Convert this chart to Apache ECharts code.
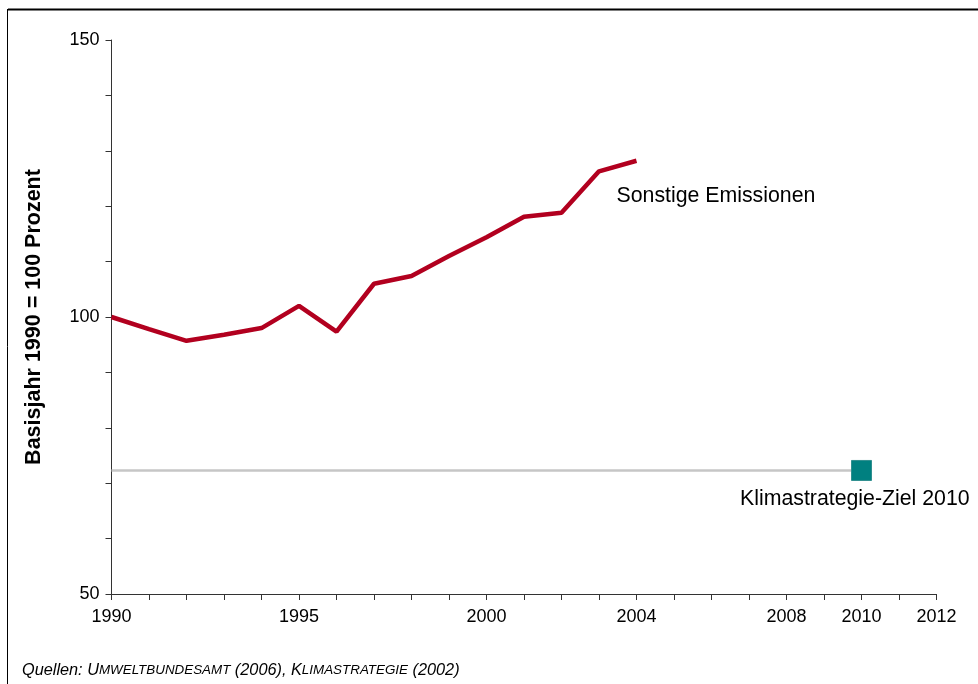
<!DOCTYPE html>
<html>
<head>
<meta charset="utf-8">
<script src="https://cdn.jsdelivr.net/npm/echarts@6/dist/echarts.min.js"></script>
<style>html,body{margin:0;padding:0;background:#fff;}#c{width:978px;height:684px;}</style>
</head>
<body>
<div id="c"></div>
<script>
const years = [1990,1991,1992,1993,1994,1995,1996,1997,1998,1999,2000,2001,2002,2003,2004];
const emissions = [100.0,97.8,95.7,96.8,98.0,102.0,97.35,106.0,107.4,111.0,114.4,118.1,118.8,126.3,128.2];
const targetYears = [1990, 2010];
const targetValue = 72.3;
const xLabelYears = [1990,1995,2000,2004,2008,2010,2012];
const yLabelValues = [50,100,150];
const seriesName = 'Sonstige Emissionen';
const targetName = 'Klimastrategie-Ziel 2010';
const yTitle = 'Basisjahr 1990 = 100 Prozent';

const FONT = '"Liberation Sans", Arial, sans-serif';
const chart = echarts.init(document.getElementById('c'));
chart.setOption({
  animation: false,
  backgroundColor: '#fff',
  grid: {left: 111.5, right: 41.5, top: 40, bottom: 90, containLabel: false},
  xAxis: {
    type: 'value', min: 1990, max: 2012, interval: 1,
    axisLine: {lineStyle: {color: '#333', width: 1}},
    axisTick: {show: true, length: 6, lineStyle: {color: '#333'}},
    splitLine: {show: false},
    axisLabel: {
      color: '#000', fontFamily: FONT, fontSize: 18, margin: 14,
      showMinLabel: true, showMaxLabel: true,
      formatter: v => xLabelYears.includes(Math.round(v)) ? String(Math.round(v)) : ''
    }
  },
  yAxis: {
    type: 'value', min: 50, max: 150, interval: 10,
    name: yTitle, nameLocation: 'middle', nameRotate: 90, nameGap: 66,
    nameTextStyle: {color: '#000', fontFamily: FONT, fontSize: 21.5, fontWeight: 'bold'},
    axisLine: {show: true, lineStyle: {color: '#333', width: 1}},
    axisTick: {show: true, length: 6, lineStyle: {color: '#333'}},
    splitLine: {show: false},
    axisLabel: {
      color: '#000', fontFamily: FONT, fontSize: 18, margin: 12,
      formatter: v => yLabelValues.includes(Math.round(v)) ? String(Math.round(v)) : ''
    }
  },
  series: [
    {
      type: 'line', name: targetName,
      data: targetYears.map(y => [y, targetValue]),
      showSymbol: false, symbol: 'none',
      lineStyle: {color: '#c6c6c6', width: 2.5},
      endLabel: {
        show: true, formatter: targetName, distance: 0, offset: [-121.5, 29],
        color: '#000', fontFamily: FONT, fontSize: 21.3
      },
      z: 2
    },
    {
      type: 'scatter', name: targetName + ' Marker',
      data: [[targetYears[1], targetValue]],
      symbol: 'rect', symbolSize: 20,
      itemStyle: {color: '#008080', borderColor: '#2f8f8f', borderWidth: 1, opacity: 1},
      z: 4
    },
    {
      type: 'line', name: seriesName,
      data: years.map((y, i) => [y, emissions[i]]),
      showSymbol: false, symbol: 'none',
      lineStyle: {color: '#b2001f', width: 4.5},
      endLabel: {
        show: true, formatter: seriesName, distance: 0, offset: [-20, 35],
        color: '#000', fontFamily: FONT, fontSize: 21.3
      },
      z: 3
    }
  ],
  graphic: [
    {type: 'line', shape: {x1: 8, y1: 9.5, x2: 978, y2: 9.5}, style: {stroke: '#000', lineWidth: 2}, silent: true},
    {type: 'line', shape: {x1: 7.5, y1: 9, x2: 7.5, y2: 684}, style: {stroke: '#000', lineWidth: 1}, silent: true},
    {
      type: 'text', left: 22, top: 662,
      style: {
        text: '{n|Quellen: }{b|U}{s|MWELTBUNDESAMT}{n| (2006), }{b|K}{s|LIMASTRATEGIE}{n| (2002)}',
        rich: {
          n: {fontFamily: FONT, fontSize: 16.3, fontStyle: 'italic', fill: '#000'},
          b: {fontFamily: FONT, fontSize: 16.3, fontStyle: 'italic', fill: '#000'},
          s: {fontFamily: FONT, fontSize: 13.4, fontStyle: 'italic', fill: '#000'}
        }
      }
    }
  ]
});
</script>
</body>
</html>
